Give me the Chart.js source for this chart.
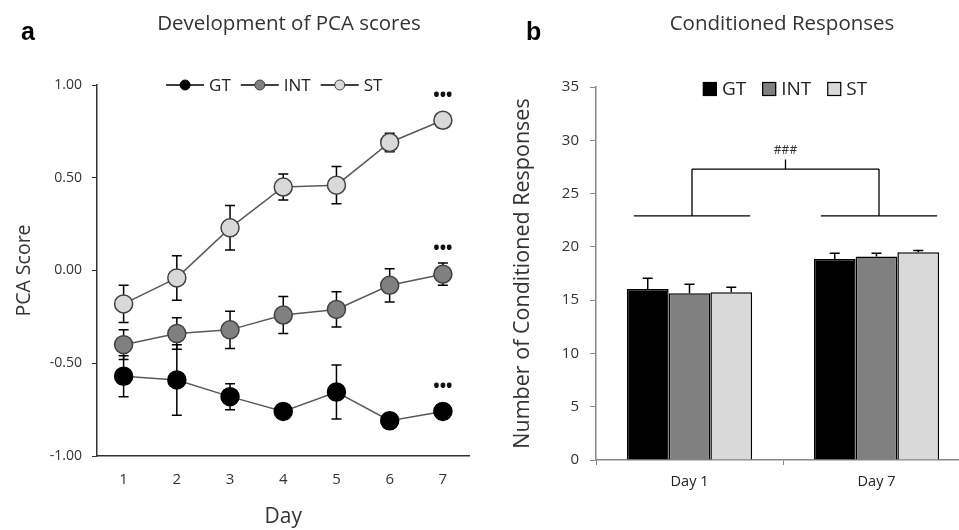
<!DOCTYPE html>
<html>
<head>
<meta charset="utf-8">
<script src="https://cdn.jsdelivr.net/npm/chart.js@4.4.1/dist/chart.umd.min.js"></script>
<style>
  html, body { margin: 0; padding: 0; background: #fff; width: 959px; height: 530px; overflow: hidden; }
  .panel { position: absolute; top: 0; height: 530px; }
  .panel canvas { display: block; }
  #wrapA { left: 0; width: 480px; }
  #wrapB { left: 480px; width: 490px; }
  .tag { position: absolute; font: bold 25px Arial, "Liberation Sans", sans-serif; color: #000; }
  .ttl { position: absolute; font: 20.5px "Open Sans", sans-serif; color: #333; transform: translateX(-50%); white-space: nowrap; }
</style>
</head>
<body>
<div class="panel" id="wrapA"><canvas id="chartA" width="480" height="530"></canvas></div>
<div class="panel" id="wrapB"><canvas id="chartB" width="490" height="530"></canvas></div>
<div class="tag" style="left:21px;top:17px">a</div>
<div class="tag" style="left:526px;top:17px">b</div>
<div class="ttl" style="left:289px;top:8px">Development of PCA scores</div>
<div class="ttl" style="left:782px;top:8px">Conditioned Responses</div>

<script>
// panel a - PCA scores by day (mean, error)
const days = ['1', '2', '3', '4', '5', '6', '7'];
const gtScore  = [-0.57, -0.59, -0.68, -0.76, -0.655, -0.81, -0.76];
const gtErr    = [0.11, 0.19, 0.07, 0.03, 0.145, 0.04, 0.04];
const intScore = [-0.40, -0.34, -0.32, -0.24, -0.21, -0.08, -0.02];
const intErr   = [0.08, 0.085, 0.10, 0.10, 0.095, 0.09, 0.06];
const stScore  = [-0.18, -0.04, 0.23, 0.45, 0.46, 0.69, 0.81];
const stErr    = [0.10, 0.12, 0.12, 0.07, 0.10, 0.05, 0.03];
const sigMark  = '•••';   // *** on day 7

// panel b - conditioned responses
const sessions = ['Day 1', 'Day 7'];
const gtCR  = [16.05, 18.85];
const intCR = [15.65, 19.1];
const stCR  = [15.75, 19.5];
const gtCRErr  = [1.0, 0.55];
const intCRErr = [0.85, 0.3];
const stCRErr  = [0.45, 0.15];
const bracketBase = 22.9, bracketArm = 27.3, bracketStem = 28.2, bracketLabel = '###';

const fontMain = '"Open Sans", sans-serif';
const darkText = '#333';

// error bars drawn from each dataset's `errors`
const errorBars = {
  id: 'errorBars',
  beforeDatasetsDraw(chart, args, o) { if (!o.onTop) draw(chart, o); },
  afterDatasetsDraw(chart, args, o) { if (o.onTop) draw(chart, o); }
};
function draw(chart, o) {
  const ctx = chart.ctx, y = chart.scales.y;
  ctx.save();
  ctx.strokeStyle = '#000';
  ctx.lineWidth = 1.5;
  chart.data.datasets.forEach((ds, i) => {
    chart.getDatasetMeta(i).data.forEach((el, j) => {
      const v = ds.data[j], e = ds.errors[j];
      const top = y.getPixelForValue(v + e);
      const bot = o.upOnly ? y.getPixelForValue(v) : y.getPixelForValue(v - e);
      ctx.beginPath();
      ctx.moveTo(el.x, top); ctx.lineTo(el.x, bot);
      ctx.moveTo(el.x - o.cap, top); ctx.lineTo(el.x + o.cap, top);
      if (!o.upOnly) { ctx.moveTo(el.x - o.cap, bot); ctx.lineTo(el.x + o.cap, bot); }
      ctx.stroke();
    });
  });
  ctx.restore();
}

// significance dots above last point of each series
const sigDots = {
  id: 'sigDots',
  afterDatasetsDraw(chart) {
    const ctx = chart.ctx, y = chart.scales.y;
    ctx.save();
    ctx.font = 'bold 17px ' + fontMain;
    ctx.fillStyle = '#111';
    ctx.textAlign = 'center';
    ctx.textBaseline = 'middle';
    chart.data.datasets.forEach((ds, i) => {
      const meta = chart.getDatasetMeta(i);
      const n = ds.data.length - 1;
      const el = meta.data[n];
      const capY = y.getPixelForValue(ds.data[n] + ds.errors[n]);
      ctx.fillText(sigMark, el.x, Math.min(capY, el.y - 10) - 14);
    });
    ctx.restore();
  }
};

// legend drawn inside the top of the plot area
const groupLegend = {
  id: 'groupLegend',
  afterDraw(chart, args, o) {
    const ctx = chart.ctx, area = chart.chartArea;
    ctx.save();
    ctx.font = o.font;
    const items = chart.data.datasets.map(ds => ({ ds, w: o.symW + o.gap + ctx.measureText(ds.label).width }));
    const total = items.reduce((s, it) => s + it.w, 0) + o.spacing * (items.length - 1);
    let x = (area.left + area.right) / 2 - total / 2 + o.shift;
    const cy = area.top + o.dy;
    items.forEach(it => {
      const ds = it.ds;
      if (o.kind === 'line') {
        ctx.strokeStyle = '#000';
        ctx.lineWidth = 1.5;
        ctx.beginPath(); ctx.moveTo(x, cy); ctx.lineTo(x + o.symW, cy); ctx.stroke();
        ctx.beginPath(); ctx.arc(x + o.symW / 2, cy, 5, 0, Math.PI * 2);
        ctx.fillStyle = ds.pointBackgroundColor; ctx.fill();
        ctx.lineWidth = 1; ctx.strokeStyle = ds.pointBorderColor; ctx.stroke();
      } else {
        ctx.fillStyle = ds.backgroundColor;
        ctx.fillRect(x, cy - 7, o.symW, 14);
        ctx.lineWidth = 1.2; ctx.strokeStyle = '#000';
        ctx.strokeRect(x + 0.5, cy - 6.5, o.symW - 1, 13);
      }
      ctx.fillStyle = '#222';
      ctx.textBaseline = 'middle';
      ctx.fillText(ds.label, x + o.symW + o.gap, cy + 1);
      x += it.w + o.spacing;
    });
    ctx.restore();
  }
};

// ### bracket between the two sessions
const bracket = {
  id: 'bracket',
  afterDraw(chart) {
    const ctx = chart.ctx, y = chart.scales.y;
    const first = chart.getDatasetMeta(0).data, last = chart.getDatasetMeta(chart.data.datasets.length - 1).data;
    const yb = y.getPixelForValue(bracketBase), ya = y.getPixelForValue(bracketArm), ys = y.getPixelForValue(bracketStem);
    const mids = [];
    ctx.save();
    ctx.strokeStyle = '#000';
    ctx.lineWidth = 1.3;
    ctx.beginPath();
    first.forEach((el, k) => {
      const l = el.x - el.width / 2 + 7, r = last[k].x + last[k].width / 2 - 2;
      ctx.moveTo(l, yb); ctx.lineTo(r, yb);
      const m = (l + r) / 2;
      ctx.moveTo(m, yb); ctx.lineTo(m, ya);
      mids.push(m);
    });
    ctx.moveTo(mids[0], ya); ctx.lineTo(mids[mids.length - 1], ya);
    const c = (mids[0] + mids[mids.length - 1]) / 2;
    ctx.moveTo(c, ya); ctx.lineTo(c, ys);
    ctx.stroke();
    ctx.font = '12px ' + fontMain;
    ctx.fillStyle = '#333';
    ctx.textAlign = 'center';
    ctx.textBaseline = 'bottom';
    ctx.fillText(bracketLabel, c, ys - 3);
    ctx.restore();
  }
};

function lineSet(label, data, errors, fill, border) {
  return {
    label, data, errors,
    borderColor: '#595959', borderWidth: 1.5,
    pointRadius: 9, pointHoverRadius: 9,
    pointBackgroundColor: fill, pointBorderColor: border, pointBorderWidth: 1.5
  };
}

new Chart(document.getElementById('chartA'), {
  type: 'line',
  data: {
    labels: days,
    datasets: [
      lineSet('GT', gtScore, gtErr, '#000000', '#000000'),
      lineSet('INT', intScore, intErr, '#808080', '#404040'),
      lineSet('ST', stScore, stErr, '#d9d9d9', '#404040')
    ]
  },
  options: {
    responsive: false, animation: false,
    layout: { padding: { top: 85, right: 10, left: 0, bottom: 0 } },
    plugins: {
      legend: { display: false }, tooltip: { enabled: false },
      errorBars: { cap: 5, upOnly: false, onTop: false },
      groupLegend: { kind: 'line', font: '17px ' + fontMain, symW: 38, gap: 5, spacing: 10, shift: -9, dy: 0 }
    },
    scales: {
      x: {
        type: 'category', offset: true,
        grid: { display: false },
        border: { display: true, color: '#333', width: 1.5 },
        ticks: { color: darkText, font: { family: fontMain, size: 15 }, padding: 7 },
        title: { display: true, text: 'Day', color: '#333', font: { family: fontMain, size: 21 }, padding: { top: 0, bottom: 0 } },
        afterFit(s) { s.height = 74; }
      },
      y: {
        min: -1, max: 1,
        grid: { drawOnChartArea: false, drawTicks: true, tickLength: 5, color: '#333' },
        border: { display: true, color: '#333', width: 1.5 },
        ticks: { stepSize: 0.5, color: darkText, font: { family: fontMain, size: 14 }, padding: 10, callback: v => v.toFixed(2) },
        title: { display: true, text: 'PCA Score', color: '#333', font: { family: fontMain, size: 19.5 }, padding: { top: 13, bottom: 0 } },
        afterFit(s) { s.width = 97; }
      }
    }
  },
  plugins: [errorBars, sigDots, groupLegend]
});

function barSet(label, data, errors, fill) {
  return { label, data, errors, backgroundColor: fill, borderColor: '#000', borderWidth: 1.5, borderSkipped: 'bottom' };
}

new Chart(document.getElementById('chartB'), {
  type: 'bar',
  data: {
    labels: sessions,
    datasets: [
      barSet('GT', gtCR, gtCRErr, '#000000'),
      barSet('INT', intCR, intCRErr, '#808080'),
      barSet('ST', stCR, stCRErr, '#d9d9d9')
    ]
  },
  options: {
    responsive: false, animation: false,
    categoryPercentage: 0.67, barPercentage: 1.0,
    layout: { padding: { top: 87, right: 0, left: 0, bottom: 0 } },
    plugins: {
      legend: { display: false }, tooltip: { enabled: false },
      errorBars: { cap: 5, upOnly: true, onTop: true },
      groupLegend: { kind: 'box', font: '19px ' + fontMain, symW: 14, gap: 5, spacing: 16, shift: 2, dy: 2 }
    },
    scales: {
      x: {
        grid: { drawOnChartArea: false, drawTicks: true, tickLength: 5, color: '#888', offset: true },
        border: { display: true, color: '#888', width: 1.5 },
        ticks: { color: '#222', font: { family: fontMain, size: 14.5 }, padding: 8 },
        afterFit(s) { s.height = 70; }
      },
      y: {
        min: 0, max: 35,
        grid: { drawOnChartArea: false, drawTicks: true, tickLength: 6, color: '#888' },
        border: { display: true, color: '#888', width: 1.5 },
        ticks: { stepSize: 5, color: darkText, font: { family: fontMain, size: 15 }, padding: 11 },
        title: { display: true, text: 'Number of Conditioned Responses', color: '#333', font: { family: fontMain, size: 21.5 }, padding: { top: 30, bottom: 0 } },
        afterFit(s) { s.width = 116; }
      }
    }
  },
  plugins: [errorBars, groupLegend, bracket]
});
</script>
</body>
</html>
